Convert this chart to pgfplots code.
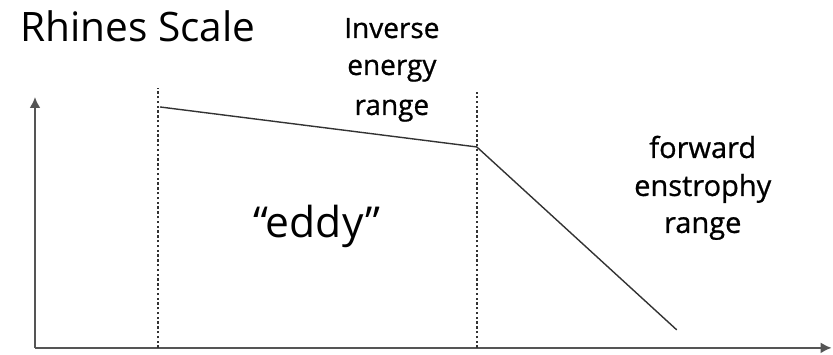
\documentclass[border=0pt]{standalone}
\usepackage{fontspec}
\setmainfont{Open Sans}
\newfontfamily\labelfont{Open Sans}[FakeBold=0.8]
\usepackage{pgfplots}
\pgfplotsset{compat=1.18}
\usetikzlibrary{arrows.meta}
\definecolor{ink}{HTML}{333333}
\definecolor{axisgray}{HTML}{555555}

% Spectrum sketch: one unit = one sample step on the canvas
\pgfplotstableread{
x y
160 248
477 208
677 25
}\spectrum
\pgfplotstableread{
x y
158 7
158 267
}\rhinesA
\pgfplotstableread{
x y
477 7
477 263
}\rhinesB

\begin{document}
\begin{tikzpicture}
\begin{axis}[
  scale only axis,
  width=398.5pt, height=125.5pt,
  xmin=35, xmax=832, ymin=7, ymax=258,
  axis lines=left,
  axis line style={-{Latex[length=5.5pt,width=5.5pt]}, line width=1.3pt, axisgray},
  ticks=none,
  clip=false,
  every node/.style={text=ink},
]
\addplot[no marks, line width=0.7pt, ink] table {\spectrum};
\addplot[no marks, line width=0.8pt, ink, dash pattern=on 1.2pt off 1.2pt] table {\rhinesA};
\addplot[no marks, line width=0.8pt, ink, dash pattern=on 1.2pt off 1.2pt] table {\rhinesB};

\path (axis cs:0,0) rectangle (axis cs:833,355);

\node[anchor=base west, font=\fontsize{20.3}{24}\selectfont, inner sep=0] at (axis cs:20,313) {Rhines Scale};

\node[anchor=base, font=\labelfont\fontsize{14}{17}\selectfont, inner sep=0] at (axis cs:392,317) {Inverse};
\node[anchor=base, font=\labelfont\fontsize{14}{17}\selectfont, inner sep=0] at (axis cs:392,280) {energy};
\node[anchor=base, font=\labelfont\fontsize{14}{17}\selectfont, inner sep=0] at (axis cs:392,240) {range};

\node[anchor=base, font=\labelfont\fontsize{14.5}{17}\selectfont, inner sep=0] at (axis cs:703,197) {forward};
\node[anchor=base, font=\labelfont\fontsize{14.5}{17}\selectfont, inner sep=0] at (axis cs:703,159) {enstrophy};
\node[anchor=base, font=\labelfont\fontsize{14.5}{17}\selectfont, inner sep=0] at (axis cs:703,122) {range};

\node[anchor=base, font=\fontsize{21.3}{25}\selectfont, inner sep=0] at (axis cs:317,117) {“eddy”};
\end{axis}
\end{tikzpicture}
\end{document}
